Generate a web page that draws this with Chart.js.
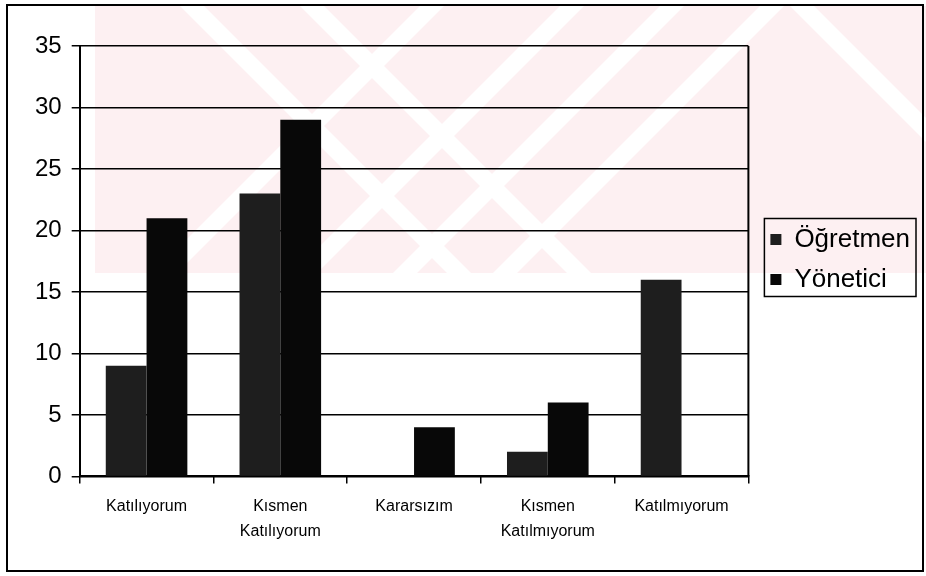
<!DOCTYPE html>
<html>
<head>
<meta charset="utf-8">
<script src="https://cdn.jsdelivr.net/npm/chart.js@4.4.0/dist/chart.umd.min.js"></script>
<style>
  html, body { margin: 0; padding: 0; background: #fff; }
  #wrap { width: 926px; height: 576px; position: relative; }
</style>
</head>
<body>
<div id="wrap"><canvas id="chart" width="926" height="576"></canvas></div>
<script>
// veriler
const kategoriler = [
    'Katılıyorum',
    ['Kısmen', 'Katılıyorum'],
    'Kararsızım',
    ['Kısmen', 'Katılmıyorum'],
    'Katılmıyorum'
];
const ogretmen = [9, 23, 0, 2, 16];
const yonetici = [21, 29, 4, 6, 0];
const yEtiketleri = [0, 5, 10, 15, 20, 25, 30, 35];

const fontAile = 'Arial, "Liberation Sans", sans-serif';

// arka plandaki pembe filigran, cerceve ve lejant kutusu
const cerceve = {
    id: 'cerceve',
    afterLayout(chart) {
        // lejanti biraz saga ve yukari kaydir
        const l = chart.legend;
        l.left += 8; l.right += 8;
        l.top -= 41; l.bottom -= 41;
    },
    beforeDraw(chart) {
        const ctx = chart.ctx;
        ctx.save();
        ctx.fillStyle = '#fff';
        ctx.fillRect(0, 0, chart.width, chart.height);
        ctx.beginPath();
        ctx.rect(95, 6, 831, 267);
        ctx.clip();
        ctx.fillStyle = '#fdf0f2';
        ctx.fillRect(95, 6, 831, 267);
        ctx.fillStyle = '#fff';
        // beyaz capraz seritler
        [[180, 1], [300, 1], [790, 1], [560, -1], [660, -1], [760, -1], [420, -1]].forEach(([x, d]) => {
            ctx.beginPath();
            ctx.moveTo(x, 6);
            ctx.lineTo(x + 24, 6);
            ctx.lineTo(x + 24 + d * 270, 276);
            ctx.lineTo(x + d * 270, 276);
            ctx.closePath();
            ctx.fill();
        });
        ctx.restore();
    },
    afterDraw(chart) {
        const ctx = chart.ctx;
        const a = chart.chartArea;
        ctx.save();
        ctx.strokeStyle = '#000';
        ctx.lineWidth = 2;
        ctx.beginPath();
        ctx.moveTo(a.right, a.top);
        ctx.lineTo(a.right, a.bottom);
        ctx.stroke();
        ctx.strokeRect(7, 5, 916, 566);
        const kutular = chart.legend.legendHitBoxes;
        if (kutular.length) {
            const sol = Math.min(...kutular.map(k => k.left)) - 6;
            const ust = Math.min(...kutular.map(k => k.top)) - 8;
            const sag = Math.max(...kutular.map(k => k.left + k.width)) + 6;
            const alt = Math.max(...kutular.map(k => k.top + k.height)) + 4;
            ctx.lineWidth = 1.5;
            ctx.strokeRect(sol, ust, sag - sol, alt - ust);
        }
        ctx.restore();
    }
};

new Chart(document.getElementById('chart'), {
    type: 'bar',
    data: {
        labels: kategoriler,
        datasets: [
            { label: 'Öğretmen', data: ogretmen, backgroundColor: '#1e1e1e' },
            { label: 'Yönetici', data: yonetici, backgroundColor: '#080808' }
        ]
    },
    options: {
        responsive: false,
        animation: false,
        devicePixelRatio: 1,
        layout: { padding: { left: 25, top: 46, right: 14, bottom: 21 } },
        datasets: { bar: { categoryPercentage: 0.61, barPercentage: 1.0 } },
        plugins: {
            legend: {
                position: 'right',
                labels: {
                    color: '#000',
                    boxWidth: 11,
                    boxHeight: 11,
                    padding: 14,
                    font: { family: fontAile, size: 26 }
                }
            },
            tooltip: { enabled: false }
        },
        scales: {
            x: {
                grid: { drawOnChartArea: false, drawTicks: true, tickLength: 7, color: '#000', lineWidth: 1.5 },
                border: { color: '#000', width: 2 },
                ticks: {
                    color: '#000',
                    padding: 11,
                    maxRotation: 0,
                    font: { family: fontAile, size: 16, lineHeight: 1.55 }
                }
            },
            y: {
                min: 0,
                max: 35,
                afterBuildTicks(axis) { axis.ticks = yEtiketleri.map(v => ({ value: v })); },
                grid: { color: '#000', lineWidth: 1.5, tickLength: 8 },
                border: { color: '#000', width: 2 },
                ticks: {
                    color: '#000',
                    padding: 10,
                    font: { family: fontAile, size: 24 }
                }
            }
        }
    },
    plugins: [cerceve]
});
</script>
</body>
</html>
